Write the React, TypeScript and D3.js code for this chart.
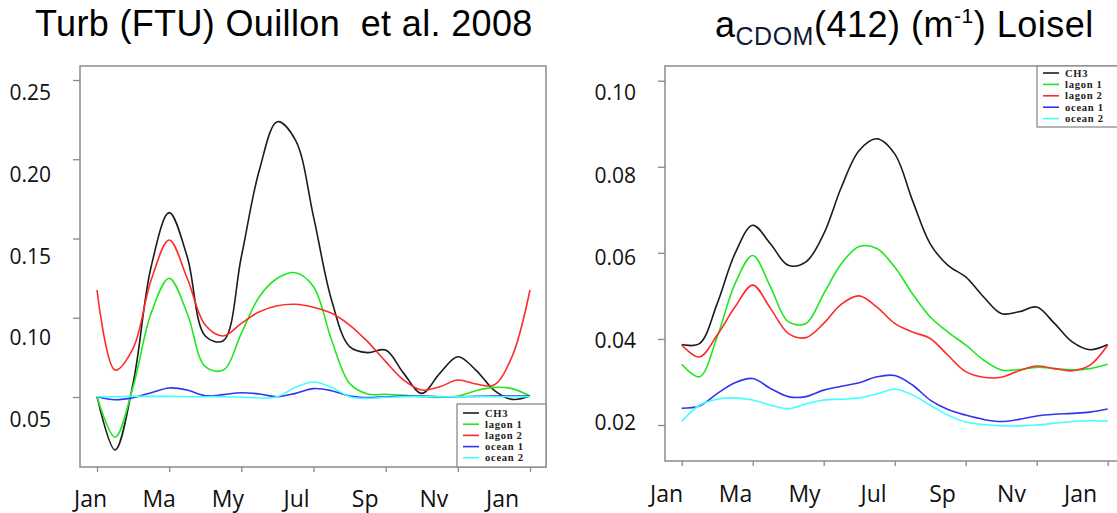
import * as d3 from "d3";
import { useEffect, useRef } from "react";

// time axis in months since January, read every half month
const months = [0, 0.5, 1, 1.5, 2, 2.5, 3, 3.5, 4, 4.5, 5, 5.5, 6, 6.5, 7, 7.5, 8, 8.5, 9, 9.5, 10, 10.5, 11, 11.5, 12];
const monthTicks = [0, 2, 4, 6, 8, 10, 12];
const monthLabels = ["Jan", "Ma", "My", "Jul", "Sp", "Nv", "Jan"];

const seriesNames = ["CH3", "lagon 1", "lagon 2", "ocean 1", "ocean 2"];
const seriesColors = ["#1c1c1c", "#22e622", "#ff2b2b", "#3434ee", "#40ffff"];

// left panel: turbidity (FTU)
const turbTicks = [0.05, 0.1, 0.15, 0.2, 0.25];
const turbCH3 = [0.0502, 0.0166, 0.0586, 0.1322, 0.1663, 0.1385, 0.0885, 0.0855, 0.1385, 0.1932, 0.2237, 0.2121, 0.1638, 0.1112, 0.0818, 0.078, 0.0796, 0.0649, 0.0523, 0.0649, 0.0754, 0.067, 0.0544, 0.0485, 0.0506];
const turbLagon1 = [0.0502, 0.0246, 0.0565, 0.1028, 0.1249, 0.1028, 0.0691, 0.067, 0.0902, 0.1133, 0.1249, 0.1284, 0.1196, 0.086, 0.0586, 0.0519, 0.0517, 0.0511, 0.0502, 0.0498, 0.0506, 0.054, 0.0561, 0.0553, 0.0506];
const turbLagon2 = [0.1175, 0.067, 0.0807, 0.1238, 0.1491, 0.1249, 0.0954, 0.0885, 0.0965, 0.1038, 0.1076, 0.1085, 0.1066, 0.1028, 0.0954, 0.0849, 0.0723, 0.0607, 0.0544, 0.0565, 0.0607, 0.0582, 0.0576, 0.0754, 0.1175];
const turbOcean1 = [0.0502, 0.0483, 0.0496, 0.0527, 0.0557, 0.0544, 0.0508, 0.0515, 0.0527, 0.0519, 0.0502, 0.0523, 0.0553, 0.054, 0.0506, 0.0496, 0.0502, 0.0506, 0.0506, 0.0502, 0.0502, 0.0504, 0.0506, 0.0506, 0.0506];
const turbOcean2 = [0.0502, 0.0502, 0.0504, 0.0504, 0.0504, 0.0502, 0.0502, 0.0502, 0.05, 0.0494, 0.0502, 0.0561, 0.0595, 0.0561, 0.0502, 0.0492, 0.0498, 0.0502, 0.0502, 0.0502, 0.0502, 0.0502, 0.0502, 0.0502, 0.0502];

// right panel: aCDOM(412) (m-1)
const cdomTicks = [0.02, 0.04, 0.06, 0.08, 0.1];
const cdomCH3 = [0.0387, 0.0389, 0.0482, 0.0598, 0.0664, 0.0621, 0.0571, 0.0579, 0.0644, 0.0753, 0.0838, 0.0865, 0.083, 0.0722, 0.0621, 0.0571, 0.0544, 0.0498, 0.0459, 0.0463, 0.0474, 0.0436, 0.0393, 0.0375, 0.0387];
const cdomLagon1 = [0.0341, 0.0312, 0.0405, 0.0528, 0.0594, 0.0521, 0.044, 0.0436, 0.0505, 0.0575, 0.0615, 0.061, 0.0567, 0.0505, 0.0451, 0.0416, 0.0386, 0.0351, 0.0328, 0.0329, 0.0334, 0.0331, 0.0328, 0.0331, 0.0341];
const cdomLagon2 = [0.0386, 0.0358, 0.0409, 0.0474, 0.0525, 0.0471, 0.0413, 0.0403, 0.0436, 0.0481, 0.05, 0.0474, 0.0436, 0.0416, 0.0401, 0.0362, 0.0324, 0.0311, 0.0311, 0.0326, 0.0337, 0.0331, 0.0326, 0.0339, 0.0386];
const cdomOcean1 = [0.0239, 0.0244, 0.0273, 0.0298, 0.0308, 0.0285, 0.0266, 0.0266, 0.0281, 0.029, 0.0298, 0.0312, 0.0315, 0.0293, 0.0258, 0.0236, 0.0223, 0.0213, 0.0208, 0.0213, 0.0221, 0.0225, 0.0227, 0.023, 0.0237];
const cdomOcean2 = [0.0208, 0.0246, 0.026, 0.0263, 0.0258, 0.0246, 0.0238, 0.0249, 0.0258, 0.026, 0.0263, 0.0272, 0.0283, 0.027, 0.0246, 0.0223, 0.0207, 0.0201, 0.0198, 0.0198, 0.02, 0.0204, 0.0208, 0.021, 0.0209];

const panels = [
  {
    series: [turbCH3, turbLagon1, turbLagon2, turbOcean1, turbOcean2],
    yTicks: turbTicks,
    box: { left: 80, right: 546, top: 66, bottom: 467 },
    xRange: [97, 530],
    yRange: [397, 80],
    yLabelRange: [420, 93],
    xLabelRange: [90, 502],
    xLabelY: 499,
    legend: { left: 457, right: 546, top: 404, bottom: 467, firstY: 413, step: 11.2 },
  },
  {
    series: [cdomCH3, cdomLagon1, cdomLagon2, cdomOcean1, cdomOcean2],
    yTicks: cdomTicks,
    box: { left: 665, right: 1130, top: 66, bottom: 461 },
    xRange: [681.7, 1107.7],
    yRange: [425, 80.7],
    yLabelRange: [423, 93],
    xLabelRange: [666, 1080],
    xLabelY: 494,
    legend: { left: 1037, right: 1130, top: 66, bottom: 127, firstY: 73, step: 11.4 },
  },
];

const App = () => {
  const ref = useRef(null);

  useEffect(() => {
    const root = d3.select(ref.current);
    root.selectAll("*").remove();

    panels.forEach((p) => {
      const g = root.append("g");
      const x = d3.scaleLinear().domain([0, 12]).range(p.xRange);
      const y = d3.scaleLinear().domain([p.yTicks[0], p.yTicks[p.yTicks.length - 1]]).range(p.yRange);
      // the pasted labels do not sit exactly on their ticks
      const yLabel = d3.scaleLinear().domain(y.domain()).range(p.yLabelRange);
      const xLabel = d3.scalePoint().domain(d3.range(monthLabels.length)).range(p.xLabelRange);

      // frame
      g.append("rect")
        .attr("x", p.box.left)
        .attr("y", p.box.top)
        .attr("width", p.box.right - p.box.left)
        .attr("height", p.box.bottom - p.box.top)
        .attr("fill", "none")
        .attr("stroke", "#8a8a8a")
        .attr("stroke-width", 1.5);

      // y ticks
      g.append("g")
        .attr("transform", `translate(${p.box.left},0)`)
        .call(d3.axisLeft(y).tickValues(p.yTicks).tickSize(7).tickFormat(() => ""))
        .call((a) => a.select(".domain").remove())
        .call((a) => a.selectAll("line").attr("stroke", "#8a8a8a").attr("stroke-width", 1.3));

      // y labels
      g.append("g")
        .attr("transform", `translate(${p.box.left},0)`)
        .call(d3.axisLeft(yLabel).tickValues(p.yTicks).tickSize(0).tickPadding(29).tickFormat(d3.format(".2f")))
        .call((a) => a.select(".domain").remove())
        .call((a) =>
          a.selectAll("text").attr("font-family", "'Open Sans', sans-serif").attr("font-size", 21).attr("fill", "#111")
        );

      // x ticks
      g.append("g")
        .attr("transform", `translate(0,${p.box.bottom})`)
        .call(d3.axisBottom(x).tickValues(monthTicks).tickSize(5).tickFormat(() => ""))
        .call((a) => a.select(".domain").remove())
        .call((a) => a.selectAll("line").attr("stroke", "#8a8a8a").attr("stroke-width", 1.3));

      // x labels
      g.append("g")
        .attr("transform", `translate(0,${p.xLabelY})`)
        .call(d3.axisBottom(xLabel).tickSize(0).tickPadding(0).tickFormat((i) => monthLabels[i]))
        .call((a) => a.select(".domain").remove())
        .call((a) =>
          a.selectAll("text")
            .attr("y", 0)
            .attr("dy", "0.36em")
            .attr("font-family", "'Open Sans', sans-serif")
            .attr("font-size", 23)
            .attr("fill", "#111")
        );

      // curves
      const line = d3
        .line()
        .x((d, i) => x(months[i]))
        .y((d) => y(d))
        .curve(d3.curveCatmullRom.alpha(0.5));

      g.selectAll("path.series")
        .data(p.series)
        .join("path")
        .attr("class", "series")
        .attr("d", (d) => line(d))
        .attr("fill", "none")
        .attr("stroke", (d, i) => seriesColors[i])
        .attr("stroke-width", 1.6);

      // legend
      const L = p.legend;
      g.append("rect")
        .attr("x", L.left)
        .attr("y", L.top)
        .attr("width", L.right - L.left)
        .attr("height", L.bottom - L.top)
        .attr("fill", "white")
        .attr("stroke", "#8a8a8a")
        .attr("stroke-width", 1.3);
      const item = g
        .selectAll("g.leg")
        .data(seriesNames)
        .join("g")
        .attr("class", "leg")
        .attr("transform", (d, i) => `translate(${L.left + 6},${L.firstY + i * L.step})`);
      item.append("line").attr("x1", 0).attr("x2", 16).attr("stroke", (d, i) => seriesColors[i]).attr("stroke-width", 1.6);
      item.append("text")
        .attr("x", 22)
        .attr("dy", "0.34em")
        .attr("font-family", "'Liberation Serif', serif")
        .attr("font-weight", "bold")
        .attr("font-size", 10.6)
        .attr("letter-spacing", 0.7)
        .attr("fill", "#222")
        .text((d) => d);
    });
  }, []);

  return (
    <svg width={1117} height={513} style={{ position: "absolute", left: 0, top: 0, background: "white" }}>
      <text x={35} y={36} fontFamily="'Liberation Sans', Arial, sans-serif" fontSize={36} letterSpacing={0.35} fill="#000" xmlSpace="preserve">
        {"Turb (FTU) Ouillon  et al. 2008"}
      </text>
      <text x={715} y={37} fontFamily="'Liberation Sans', Arial, sans-serif" fontSize={36} letterSpacing={0.5} fill="#000">
        a
        <tspan fontSize={25} dy={8} fill="#0e1a3a">CDOM</tspan>
        <tspan dy={-8}>(412) (m</tspan>
        <tspan fontSize={21} dy={-14}>-1</tspan>
        <tspan dy={14}>) Loisel</tspan>
      </text>
      <g ref={ref} />
    </svg>
  );
};

export default App;
